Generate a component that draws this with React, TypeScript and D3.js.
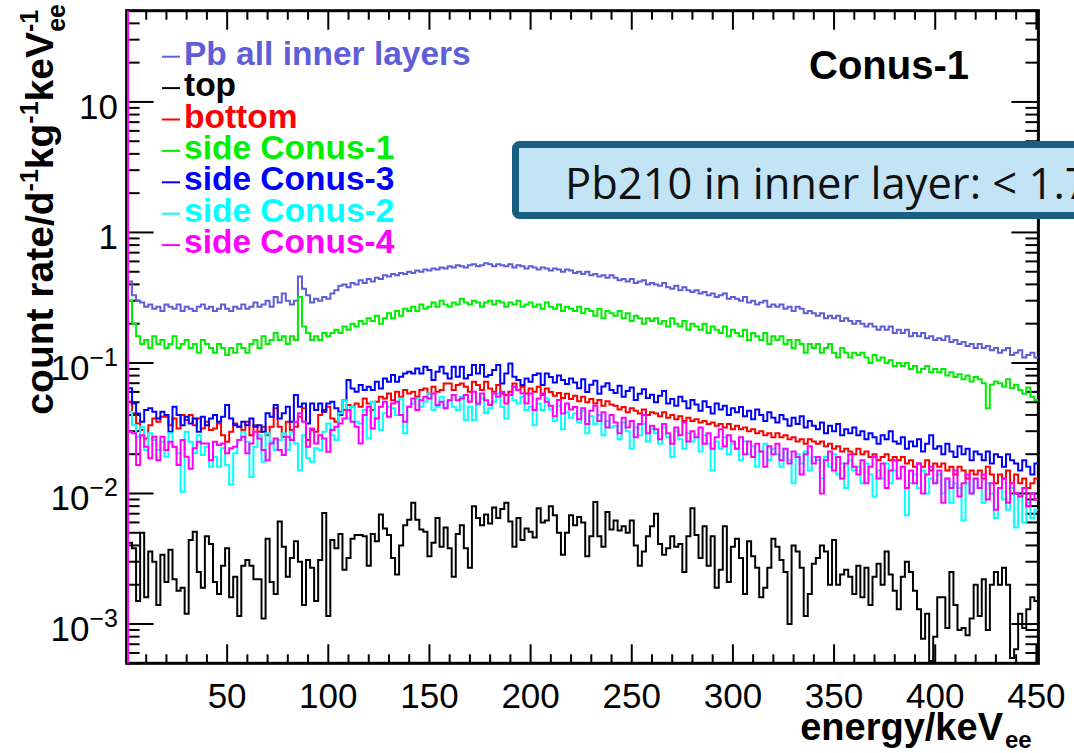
import React from "react";
import * as d3 from "d3";

const W = 1074;
const H = 753;

// histogram binning (keV)
const ENERGY_MIN = 1;
const ENERGY_MAX = 451;
const BIN_WIDTH = 2;

// axis ticks / labels
const xMajorTicks = [50, 100, 150, 200, 250, 300, 350, 400, 450];
const yLabelDecades = [1, 0, -1, -2, -3];

// series values (count rate / d^-1 kg^-1 keV^-1), 2 keV bins from 1 to 451 keV
const pbAllInner = [
  0.42, 0.33, 0.30, 0.29, 0.27, 0.28, 0.26, 0.27, 0.25, 0.28,
  0.27, 0.26, 0.28, 0.25, 0.27, 0.26, 0.25, 0.27, 0.28, 0.26,
  0.27, 0.25, 0.26, 0.28, 0.26, 0.25, 0.27, 0.26, 0.28, 0.26,
  0.27, 0.29, 0.27, 0.28, 0.30, 0.27, 0.32, 0.29, 0.34, 0.30,
  0.28, 0.30, 0.46, 0.37, 0.33, 0.29, 0.31, 0.30, 0.32, 0.31,
  0.34, 0.36, 0.39, 0.40, 0.38, 0.41, 0.40, 0.43, 0.41, 0.44,
  0.42, 0.45, 0.44, 0.47, 0.46, 0.48, 0.47, 0.49, 0.48, 0.50,
  0.49, 0.51, 0.50, 0.52, 0.51, 0.53, 0.52, 0.54, 0.53, 0.55,
  0.54, 0.56, 0.55, 0.54, 0.56, 0.57, 0.55, 0.56, 0.58, 0.57,
  0.55, 0.57, 0.56, 0.55, 0.57, 0.54, 0.56, 0.55, 0.53, 0.55,
  0.54, 0.52, 0.54, 0.53, 0.51, 0.53, 0.52, 0.50, 0.52, 0.51,
  0.49, 0.50, 0.48, 0.50, 0.47, 0.48, 0.46, 0.47, 0.45, 0.47,
  0.45, 0.43, 0.44, 0.42, 0.44, 0.41, 0.42, 0.43, 0.40, 0.41,
  0.40, 0.39, 0.41, 0.38, 0.37, 0.39, 0.36, 0.38, 0.36, 0.35,
  0.36, 0.34, 0.35, 0.33, 0.34, 0.32, 0.33, 0.34, 0.31, 0.32,
  0.31, 0.30, 0.32, 0.29, 0.30, 0.28, 0.29, 0.30, 0.27, 0.28,
  0.27, 0.28, 0.26, 0.27, 0.25, 0.27, 0.26, 0.24, 0.25, 0.24,
  0.23, 0.24, 0.22, 0.23, 0.22, 0.23, 0.21, 0.22, 0.21, 0.20,
  0.21, 0.20, 0.19, 0.20, 0.19, 0.18, 0.19, 0.18, 0.19, 0.17,
  0.18, 0.17, 0.18, 0.16, 0.17, 0.16, 0.17, 0.155, 0.16, 0.15,
  0.155, 0.15, 0.16, 0.145, 0.15, 0.14, 0.145, 0.135, 0.14, 0.13,
  0.14, 0.13, 0.135, 0.125, 0.13, 0.12, 0.125, 0.13, 0.115, 0.12,
  0.125, 0.11, 0.115, 0.12, 0.11,
];

const topLayer = [
  0.0042, 0.0038, 0.0015, 0.0050, 0.0016, 0.0036, 0.0030, 0.0014, 0.0034, 0.0021,
  0.0037, 0.0022, 0.0018, 0.0019, 0.0012, 0.0044, 0.0051, 0.0025, 0.0019, 0.0047,
  0.0041, 0.0021, 0.0017, 0.0028, 0.0038, 0.0016, 0.0023, 0.00115, 0.0028, 0.0031,
  0.0028, 0.0022, 0.0022, 0.0011, 0.0045, 0.0021, 0.0017, 0.0061, 0.0039, 0.0023,
  0.0032, 0.0043, 0.0030, 0.0014, 0.0031, 0.0027, 0.0015, 0.0031, 0.0071, 0.00115,
  0.0044, 0.0038, 0.0049, 0.0026, 0.0032, 0.0045, 0.0048, 0.0048, 0.0047, 0.0028,
  0.0049, 0.0043, 0.0069, 0.0054, 0.0048, 0.0032, 0.0024, 0.0040, 0.0057, 0.0063,
  0.0085, 0.0063, 0.0053, 0.0051, 0.0033, 0.0042, 0.0065, 0.0039, 0.0055, 0.0038,
  0.0023, 0.0049, 0.0057, 0.0038, 0.0027, 0.0080, 0.0065, 0.0057, 0.0069, 0.0059,
  0.0078, 0.0065, 0.0076, 0.0085, 0.0061, 0.0039, 0.0065, 0.0044, 0.0054, 0.0051,
  0.0046, 0.0077, 0.0060, 0.0062, 0.0080, 0.0068, 0.0050, 0.0034, 0.0050, 0.0068,
  0.0057, 0.0066, 0.0060, 0.0033, 0.0047, 0.0086, 0.0047, 0.0039, 0.0072, 0.0053,
  0.0062, 0.0052, 0.0056, 0.0050, 0.0062, 0.0040, 0.0028, 0.0036, 0.0047, 0.0056,
  0.0070, 0.0041, 0.0034, 0.0038, 0.0047, 0.0039, 0.0041, 0.0025, 0.0047, 0.0077,
  0.0048, 0.0032, 0.0056, 0.0028, 0.0047, 0.0019, 0.0026, 0.0056, 0.0021, 0.0039,
  0.0045, 0.0032, 0.0017, 0.0043, 0.0033, 0.0027, 0.0016, 0.0019, 0.0027, 0.0045,
  0.0039, 0.0031, 0.0025, 0.0010, 0.0040, 0.0036, 0.0027, 0.00115, 0.0017, 0.0029,
  0.0032, 0.0040, 0.0036, 0.0020, 0.0044, 0.0020, 0.0024, 0.0026, 0.0023, 0.0017,
  0.0028, 0.0016, 0.0027, 0.0014, 0.0023, 0.0029, 0.0020, 0.0036, 0.0024, 0.0018,
  0.0013, 0.0023, 0.0030, 0.0025, 0.0018, 0.0013, 0.00077, 0.0012, 0.00052, 0.0008,
  0.0016, 0.0016, 0.00093, 0.0025, 0.0014, 0.0009, 0.00093, 0.00082, 0.0011, 0.0020,
  0.00115, 0.0022, 0.0009, 0.0020, 0.0025, 0.0020, 0.0027, 0.0020, 0.00055, 0.00064,
  0.0012, 0.00093, 0.0013, 0.0016, 0.0015,
];

const bottomLayer = [
  0.0504, 0.0411, 0.0344, 0.0306, 0.0264, 0.0334, 0.0376, 0.0355, 0.0387, 0.0387,
  0.0334, 0.0376, 0.0315, 0.0399, 0.0365, 0.0399, 0.0334, 0.0376, 0.0315, 0.0355,
  0.0306, 0.0315, 0.0344, 0.028, 0.0249, 0.0297, 0.0344, 0.0325, 0.0306, 0.0355,
  0.028, 0.0334, 0.0297, 0.0325, 0.028, 0.0325, 0.0449, 0.0325, 0.0272, 0.0355,
  0.0306, 0.0325, 0.0387, 0.0449, 0.0257, 0.0306, 0.0297, 0.0399, 0.0436, 0.0462,
  0.0376, 0.0355, 0.0423, 0.0436, 0.0476, 0.0462, 0.049, 0.0462, 0.0535, 0.049,
  0.0436, 0.0504, 0.0551, 0.0535, 0.0584, 0.0519, 0.0602, 0.0551, 0.062, 0.0584,
  0.0602, 0.0551, 0.062, 0.0638, 0.0584, 0.0657, 0.0602, 0.062, 0.0697, 0.0697,
  0.062, 0.0677, 0.0697, 0.0657, 0.0602, 0.0718, 0.0677, 0.062, 0.0718, 0.0638,
  0.0602, 0.0677, 0.0584, 0.0568, 0.0602, 0.0697, 0.062, 0.0657, 0.0584, 0.0638,
  0.0602, 0.0657, 0.0568, 0.0638, 0.060, 0.056, 0.059, 0.054, 0.058, 0.053,
  0.056, 0.051, 0.055, 0.050, 0.053, 0.049, 0.052, 0.047, 0.051, 0.048,
  0.047, 0.044, 0.046, 0.042, 0.045, 0.043, 0.041, 0.044, 0.040, 0.042,
  0.041, 0.039, 0.042, 0.038, 0.040, 0.037, 0.039, 0.036, 0.038, 0.036,
  0.037, 0.035, 0.036, 0.034, 0.035, 0.033, 0.034, 0.032, 0.034, 0.031,
  0.033, 0.031, 0.032, 0.030, 0.031, 0.029, 0.030, 0.028, 0.029, 0.027,
  0.029, 0.027, 0.028, 0.026, 0.027, 0.025, 0.026, 0.024, 0.026, 0.025,
  0.024, 0.025, 0.023, 0.024, 0.022, 0.023, 0.021, 0.022, 0.021, 0.020,
  0.022, 0.020, 0.021, 0.019, 0.020, 0.018, 0.019, 0.020, 0.018, 0.019,
  0.018, 0.019, 0.017, 0.018, 0.016, 0.017, 0.016, 0.018, 0.015, 0.017,
  0.016, 0.017, 0.015, 0.016, 0.014, 0.016, 0.015, 0.013, 0.015, 0.014,
  0.015, 0.013, 0.016, 0.014, 0.012, 0.014, 0.013, 0.015, 0.012, 0.014,
  0.012, 0.013, 0.011, 0.012, 0.013,
];

const sideConus1 = [
  0.30, 0.20, 0.16, 0.14, 0.15, 0.13, 0.16, 0.14, 0.15, 0.13,
  0.14, 0.16, 0.13, 0.14, 0.15, 0.13, 0.14, 0.12, 0.15, 0.14,
  0.13, 0.12, 0.14, 0.13, 0.115, 0.13, 0.12, 0.14, 0.13, 0.12,
  0.14, 0.15, 0.13, 0.16, 0.14, 0.15, 0.17, 0.15, 0.16, 0.14,
  0.16, 0.15, 0.32, 0.19, 0.17, 0.15, 0.16, 0.15, 0.17, 0.16,
  0.17, 0.18, 0.17, 0.19, 0.18, 0.20, 0.19, 0.21, 0.20, 0.22,
  0.21, 0.23, 0.20, 0.22, 0.24, 0.22, 0.25, 0.23, 0.26, 0.25,
  0.27, 0.25, 0.28, 0.26, 0.27, 0.29, 0.27, 0.30, 0.28, 0.27,
  0.29, 0.28, 0.31, 0.29, 0.28, 0.30, 0.29, 0.27, 0.29, 0.30,
  0.28, 0.30, 0.29, 0.27, 0.29, 0.28, 0.30, 0.27, 0.28, 0.29,
  0.27, 0.28, 0.26, 0.29, 0.27, 0.26, 0.28, 0.25, 0.27, 0.26,
  0.25, 0.27, 0.24, 0.26, 0.25, 0.23, 0.26, 0.22, 0.25, 0.24,
  0.23, 0.25, 0.22, 0.24, 0.21, 0.23, 0.22, 0.20, 0.22, 0.21,
  0.22, 0.20, 0.21, 0.19, 0.22, 0.20, 0.19, 0.21, 0.18, 0.20,
  0.19, 0.18, 0.20, 0.17, 0.19, 0.18, 0.17, 0.19, 0.16, 0.18,
  0.17, 0.16, 0.18, 0.15, 0.17, 0.16, 0.15, 0.17, 0.14, 0.16,
  0.15, 0.16, 0.14, 0.15, 0.13, 0.15, 0.14, 0.12, 0.14, 0.13,
  0.14, 0.12, 0.13, 0.14, 0.12, 0.11, 0.13, 0.12, 0.11, 0.12,
  0.115, 0.12, 0.11, 0.10, 0.115, 0.105, 0.11, 0.10, 0.105, 0.095,
  0.10, 0.095, 0.10, 0.09, 0.095, 0.085, 0.09, 0.095, 0.085, 0.09,
  0.085, 0.09, 0.08, 0.085, 0.078, 0.082, 0.075, 0.08, 0.072, 0.078,
  0.075, 0.07, 0.045, 0.068, 0.072, 0.07, 0.066, 0.075, 0.064, 0.068,
  0.062, 0.058, 0.065, 0.055, 0.052,
];

const sideConus3 = [
  0.064, 0.049, 0.041, 0.0355, 0.0436, 0.0449, 0.0423, 0.0376, 0.0423, 0.0399,
  0.0297, 0.0462, 0.0399, 0.0334, 0.0387, 0.0344, 0.0376, 0.0297, 0.0387, 0.0334,
  0.0376, 0.0399, 0.0355, 0.0387, 0.0476, 0.0376, 0.0334, 0.0325, 0.0355, 0.0334,
  0.0376, 0.0325, 0.0334, 0.0297, 0.0411, 0.0387, 0.0476, 0.0376, 0.0411, 0.0462,
  0.0355, 0.0568, 0.0462, 0.049, 0.0344, 0.049, 0.0436, 0.049, 0.0423, 0.049,
  0.0504, 0.0449, 0.0399, 0.0519, 0.0739, 0.0638, 0.0602, 0.0677, 0.062, 0.0657,
  0.062, 0.0718, 0.0638, 0.0761, 0.0718, 0.0807, 0.0718, 0.0784, 0.0832, 0.0856,
  0.0832, 0.0908, 0.0832, 0.0935, 0.0882, 0.0739, 0.0856, 0.0935, 0.0832, 0.0761,
  0.0935, 0.0784, 0.0935, 0.0761, 0.0807, 0.0963, 0.0832, 0.0963, 0.0784, 0.0807,
  0.0882, 0.0963, 0.0697, 0.0832, 0.0992, 0.0784, 0.0739, 0.0677, 0.0761, 0.0718,
  0.0807, 0.0832, 0.0677, 0.0832, 0.078, 0.071, 0.080, 0.074, 0.069, 0.076,
  0.071, 0.064, 0.075, 0.060, 0.068, 0.073, 0.058, 0.066, 0.070, 0.062,
  0.059, 0.067, 0.055, 0.061, 0.065, 0.052, 0.058, 0.063, 0.054, 0.057,
  0.050, 0.056, 0.061, 0.049, 0.053, 0.047, 0.055, 0.051, 0.045, 0.052,
  0.048, 0.043, 0.051, 0.046, 0.041, 0.049, 0.044, 0.047, 0.040, 0.045,
  0.042, 0.046, 0.039, 0.043, 0.037, 0.044, 0.040, 0.036, 0.042, 0.038,
  0.035, 0.040, 0.037, 0.033, 0.038, 0.034, 0.039, 0.032, 0.036, 0.033,
  0.031, 0.035, 0.029, 0.033, 0.030, 0.034, 0.028, 0.031, 0.029, 0.032,
  0.028, 0.030, 0.026, 0.029, 0.027, 0.024, 0.028, 0.026, 0.030, 0.025,
  0.024, 0.027, 0.022, 0.025, 0.023, 0.026, 0.021, 0.024, 0.028, 0.022,
  0.023, 0.020, 0.024, 0.021, 0.019, 0.023, 0.020, 0.022, 0.018, 0.021,
  0.020, 0.018, 0.021, 0.017, 0.020, 0.019, 0.016, 0.020, 0.018, 0.017,
  0.015, 0.018, 0.016, 0.014, 0.017,
];

const sideConus2 = [
  0.0423, 0.0334, 0.0272, 0.0325, 0.0215, 0.0289, 0.0257, 0.0215, 0.0249, 0.0191,
  0.0289, 0.0228, 0.0203, 0.0103, 0.0297, 0.0249, 0.0203, 0.028, 0.0197, 0.0228,
  0.016, 0.0191, 0.016, 0.0222, 0.0165, 0.0117, 0.0203, 0.0257, 0.0297, 0.0249,
  0.0134, 0.0228, 0.028, 0.0175, 0.0289, 0.0249, 0.0215, 0.0257, 0.0289, 0.0215,
  0.0297, 0.0242, 0.0151, 0.028, 0.0186, 0.0175, 0.0222, 0.0215, 0.0297, 0.0344,
  0.028, 0.0257, 0.0411, 0.0519, 0.0376, 0.0462, 0.0355, 0.0344, 0.0436, 0.0264,
  0.0504, 0.0376, 0.0306, 0.0411, 0.0462, 0.0449, 0.0399, 0.0535, 0.0289, 0.0462,
  0.049, 0.0535, 0.0462, 0.0504, 0.0584, 0.0436, 0.0462, 0.0551, 0.0449, 0.0519,
  0.0462, 0.0436, 0.0551, 0.0365, 0.0462, 0.0365, 0.0476, 0.0535, 0.0411, 0.0449,
  0.0504, 0.0584, 0.0462, 0.0376, 0.0568, 0.0519, 0.049, 0.0551, 0.0436, 0.0462,
  0.0334, 0.049, 0.0436, 0.0535, 0.044, 0.036, 0.047, 0.031, 0.042, 0.038,
  0.041, 0.035, 0.043, 0.029, 0.039, 0.034, 0.040, 0.028, 0.036, 0.032,
  0.033, 0.026, 0.035, 0.030, 0.022, 0.032, 0.028, 0.034, 0.025, 0.031,
  0.029, 0.024, 0.032, 0.027, 0.019, 0.030, 0.026, 0.022, 0.029, 0.025,
  0.027, 0.021, 0.028, 0.024, 0.015, 0.025, 0.022, 0.027, 0.020, 0.024,
  0.022, 0.018, 0.025, 0.020, 0.023, 0.016, 0.021, 0.024, 0.018, 0.022,
  0.020, 0.016, 0.022, 0.018, 0.012, 0.020, 0.017, 0.021, 0.015, 0.019,
  0.018, 0.013, 0.019, 0.016, 0.020, 0.014, 0.017, 0.011, 0.018, 0.015,
  0.016, 0.012, 0.017, 0.014, 0.0095, 0.015, 0.013, 0.017, 0.012, 0.015,
  0.013, 0.016, 0.0068, 0.012, 0.014, 0.011, 0.015, 0.010, 0.013, 0.012,
  0.014, 0.010, 0.013, 0.0085, 0.012, 0.011, 0.0062, 0.012, 0.010, 0.013,
  0.011, 0.0085, 0.012, 0.010, 0.0065, 0.011, 0.009, 0.0075, 0.011, 0.0055,
  0.0095, 0.006, 0.0085, 0.0065, 0.0075,
];

const sideConus4 = [
  0.0297, 0.0289, 0.0165, 0.028, 0.0228, 0.0186, 0.0272, 0.018, 0.0272, 0.0215,
  0.0249, 0.0228, 0.0165, 0.0257, 0.0191, 0.0155, 0.0222, 0.0249, 0.0242, 0.0242,
  0.018, 0.0249, 0.0235, 0.0242, 0.0203, 0.0222, 0.0228, 0.0257, 0.0272, 0.0203,
  0.0242, 0.0297, 0.0264, 0.0215, 0.018, 0.0242, 0.0264, 0.0215, 0.0197, 0.0272,
  0.0257, 0.0355, 0.0411, 0.0355, 0.0228, 0.0315, 0.0242, 0.028, 0.0264, 0.0209,
  0.0306, 0.0325, 0.0344, 0.0376, 0.0436, 0.0355, 0.0325, 0.0242, 0.0399, 0.0462,
  0.0315, 0.0376, 0.0462, 0.0504, 0.0387, 0.049, 0.0504, 0.0399, 0.0355, 0.0462,
  0.0535, 0.0436, 0.0519, 0.0551, 0.0535, 0.0584, 0.0476, 0.0504, 0.0449, 0.0519,
  0.0568, 0.0519, 0.0535, 0.0568, 0.0504, 0.0602, 0.049, 0.0584, 0.0519, 0.0476,
  0.0584, 0.0551, 0.0602, 0.049, 0.0568, 0.0657, 0.062, 0.0584, 0.049, 0.0584,
  0.0436, 0.0535, 0.0584, 0.0504, 0.047, 0.039, 0.052, 0.041, 0.049, 0.044,
  0.046, 0.037, 0.045, 0.034, 0.043, 0.047, 0.036, 0.042, 0.032, 0.040,
  0.035, 0.029, 0.038, 0.032, 0.036, 0.027, 0.034, 0.040, 0.029, 0.033,
  0.031, 0.026, 0.034, 0.029, 0.024, 0.032, 0.028, 0.035, 0.025, 0.030,
  0.027, 0.032, 0.024, 0.029, 0.022, 0.027, 0.031, 0.023, 0.028, 0.025,
  0.022, 0.027, 0.020, 0.025, 0.019, 0.024, 0.021, 0.016, 0.023, 0.020,
  0.024, 0.018, 0.022, 0.017, 0.021, 0.019, 0.014, 0.020, 0.023, 0.017,
  0.019, 0.010, 0.018, 0.021, 0.015, 0.019, 0.013, 0.017, 0.020, 0.016,
  0.014, 0.018, 0.012, 0.016, 0.019, 0.013, 0.017, 0.011, 0.015, 0.018,
  0.013, 0.016, 0.011, 0.015, 0.012, 0.017, 0.010, 0.014, 0.016, 0.012,
  0.015, 0.0085, 0.013, 0.011, 0.015, 0.0095, 0.012, 0.014, 0.010, 0.013,
  0.011, 0.014, 0.009, 0.012, 0.0075, 0.011, 0.013, 0.0085, 0.012, 0.010,
  0.0095, 0.011, 0.008, 0.010, 0.009,
];

const seriesNames = [
  "Pb all inner layers",
  "top",
  "bottom",
  "side Conus-1",
  "side Conus-3",
  "side Conus-2",
  "side Conus-4",
];
const seriesColors = ["#5e5ed8", "#000000", "#ff0000", "#00ee00", "#0000ff", "#00ffff", "#ff00ff"];
const seriesValues = [pbAllInner, topLayer, bottomLayer, sideConus1, sideConus3, sideConus2, sideConus4];

const FONT = "'Liberation Sans', Arial, Helvetica, sans-serif";

export default function App() {
  const frame = { l: 126.6, r: 1038.4, t: 10.7, b: 663.3 };
  const x = d3.scaleLinear().domain([ENERGY_MIN, ENERGY_MAX]).range([128, 1038.4]);
  const y = d3.scaleLog().domain([5e-4, 50]).range([frame.b, frame.t]);

  const line = d3.line<[number, number]>();
  const histPath = (values: number[]) => {
    const pts: [number, number][] = [[x(ENERGY_MIN), frame.b]];
    values.forEach((v, i) => {
      const lo = ENERGY_MIN + i * BIN_WIDTH;
      pts.push([x(lo), y(v)], [x(lo + BIN_WIDTH), y(v)]);
    });
    return line(pts) || "";
  };

  // y ticks (log)
  const yTicks: { v: number; major: boolean }[] = [];
  for (let e = -4; e <= 1; e++) {
    for (let m = 1; m <= 9; m++) {
      const v = m * Math.pow(10, e);
      if (v >= 5e-4 * 0.999 && v <= 50 * 1.001) yTicks.push({ v, major: m === 1 });
    }
  }
  const xTicks = d3.range(10, 451, 10).map((v) => ({ v, major: xMajorTicks.includes(v) }));

  const legendRowY = (i: number) => 56.7 + i * 31.4;
  const lastColor = seriesColors[seriesColors.length - 1];

  return (
    <div style={{ position: "absolute", left: 0, top: 0, width: W, height: H, overflow: "hidden", background: "#fff" }}>
      <svg width={W} height={H} viewBox={`0 0 ${W} ${H}`} style={{ display: "block" }}>
        <defs>
          <clipPath id="plotClip">
            <rect x={frame.l} y={frame.t} width={frame.r - frame.l} height={frame.b - frame.t} />
          </clipPath>
        </defs>
        <rect x={0} y={0} width={W} height={H} fill="#ffffff" />

        {/* ticks */}
        <g stroke="#000" strokeWidth={2}>
          {xTicks.map((t) => (
            <g key={"xt" + t.v}>
              <line x1={x(t.v)} x2={x(t.v)} y1={frame.b} y2={frame.b - (t.major ? 19 : 9)} />
              <line x1={x(t.v)} x2={x(t.v)} y1={frame.t} y2={frame.t + (t.major ? 19 : 9)} />
            </g>
          ))}
          {yTicks.map((t, i) => (
            <g key={"yt" + i}>
              <line x1={frame.l} x2={frame.l + (t.major ? 27 : 13)} y1={y(t.v)} y2={y(t.v)} />
              <line x1={frame.r} x2={frame.r - (t.major ? 27 : 13)} y1={y(t.v)} y2={y(t.v)} />
            </g>
          ))}
        </g>

        {/* frame */}
        <rect x={frame.l} y={frame.t} width={frame.r - frame.l} height={frame.b - frame.t} fill="none" stroke="#000" strokeWidth={3} />

        {/* histograms */}
        <g clipPath="url(#plotClip)" fill="none" strokeWidth={2} strokeLinejoin="miter">
          {seriesValues.map((vals, i) => (
            <path key={seriesNames[i]} d={histPath(vals)} stroke={seriesColors[i]} />
          ))}
          {/* low-edge line of the last histogram, running over the full height */}
          <line x1={x(ENERGY_MIN)} x2={x(ENERGY_MIN)} y1={frame.t} y2={frame.b} stroke={lastColor} />
        </g>

        {/* x tick labels */}
        <g fontFamily={FONT} fontSize={35} fill="#000" textAnchor="middle">
          {xMajorTicks.map((v) => (
            <text key={"xl" + v} x={x(v)} y={708}>
              {v}
            </text>
          ))}
        </g>

        {/* y tick labels */}
        <g fontFamily={FONT} fontSize={35} fill="#000" textAnchor="end">
          {yLabelDecades.map((d) => {
            const yy = y(Math.pow(10, d)) + 17;
            if (d === 1) return <text key="yl1" x={118} y={yy}>10</text>;
            if (d === 0) return <text key="yl0" x={118} y={yy}>1</text>;
            return (
              <text key={"yl" + d} x={118} y={yy}>
                <tspan>10</tspan>
                <tspan dy={-14} fontSize={25}>{"\u2212" + Math.abs(d)}</tspan>
              </text>
            );
          })}
        </g>

        {/* axis titles */}
        <text x={1003} y={740} fontFamily={FONT} fontWeight="bold" fontSize={38} textAnchor="end" fill="#000">
          energy/keV
        </text>
        <text x={1005} y={748} fontFamily={FONT} fontWeight="bold" fontSize={24} fill="#000">
          ee
        </text>
        <text
          transform="translate(53,4) rotate(-90)"
          fontFamily={FONT}
          fontWeight="bold"
          fontSize={39}
          textAnchor="end"
          fill="#000"
        >
          <tspan>count rate/d</tspan>
          <tspan dy={-15} fontSize={25}>-1</tspan>
          <tspan dy={15}>kg</tspan>
          <tspan dy={-15} fontSize={25}>-1</tspan>
          <tspan dy={15}>keV</tspan>
          <tspan dy={-15} fontSize={25}>-1</tspan>
          <tspan dx={-22} dy={27} fontSize={25}>ee</tspan>
        </text>

        {/* legend */}
        {seriesNames.map((name, i) => (
          <g key={"lg" + i}>
            <line x1={162} x2={180} y1={legendRowY(i)} y2={legendRowY(i)} stroke={seriesColors[i]} strokeWidth={2} />
            <text x={184} y={legendRowY(i) + 8} fontFamily={FONT} fontWeight="bold" fontSize={33.5} fill={seriesColors[i]}>
              {name}
            </text>
          </g>
        ))}

        {/* title */}
        <text x={809} y={79} fontFamily={FONT} fontWeight="bold" fontSize={40} fill="#000">
          Conus-1
        </text>

        {/* info box */}
        <rect x={515.5} y={144.5} width={620} height={71} rx={4} fill="#c2e4f4" stroke="#1b5f80" strokeWidth={7} />
        <text x={565} y={199} fontFamily="'Open Sans', 'Noto Sans', sans-serif" fontSize={43.5} fill="#111">
          Pb210 in inner layer: &lt; 1.7
        </text>
      </svg>
    </div>
  );
}
